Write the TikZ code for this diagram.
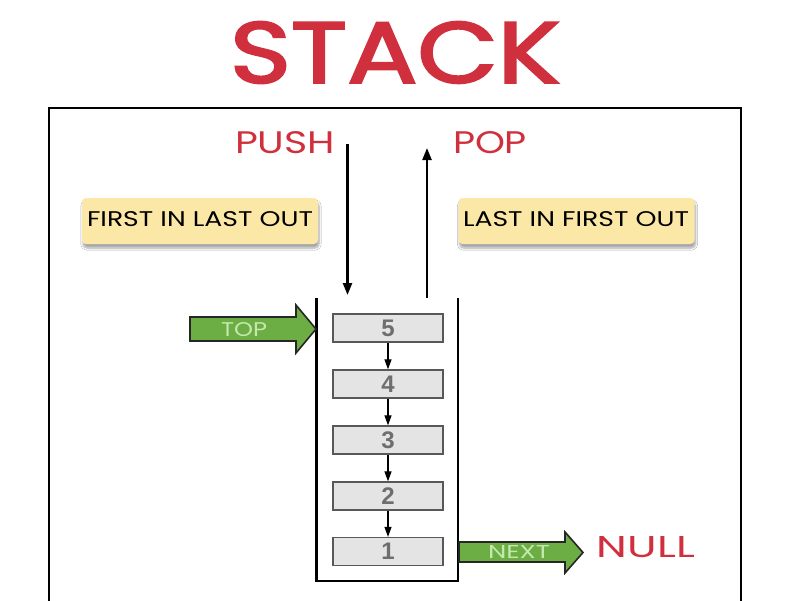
\documentclass[tikz,border=0pt]{standalone}
\usepackage{fontspec}
\usepackage{graphicx}
\setmainfont{Poppins}
\newfontfamily\titlefont{Poppins}[FakeBold=2.5]
\newfontfamily\numfont{Liberation Sans}
\usetikzlibrary{arrows.meta,shadows.blur}
\definecolor{stred}{HTML}{D0303D}
\definecolor{styel}{HTML}{FCE8A6}
\definecolor{stgreen}{HTML}{6CAD44}
\definecolor{stlgreen}{HTML}{C4E9AE}
\definecolor{stbox}{HTML}{E4E4E4}
\definecolor{stnum}{HTML}{6E6E6E}
\tikzset{
  lbl/.style={inner sep=0pt, anchor=center},
  note/.style={draw=none, fill=styel, rounded corners=4pt, minimum width=236pt, minimum height=46pt,
    blur shadow={shadow xshift=1pt, shadow yshift=-4pt, shadow blur steps=6, shadow opacity=35}},
  cell/.style={draw=stnum!80!black, line width=1.3pt, fill=stbox, minimum width=110pt, minimum height=28pt,
    inner sep=0pt, font=\numfont\bfseries\fontsize{24}{24}\selectfont, text=stnum},
  link/.style={-{Triangle[width=9pt,length=12pt]}, line width=2.3pt},
  smalllink/.style={-{Triangle[width=7pt,length=10pt]}, line width=1.2pt},
  blockarrow/.style={fill=stgreen, draw=black!85, line width=1.6pt, line join=miter},
  wall/.style={line width=2.6pt, line cap=butt}
}
\begin{document}
\begin{tikzpicture}[x=1pt,y=-1pt]
\useasboundingbox (0,0) rectangle (800,600);
\clip (0,0) rectangle (800,600);
\fill[white] (0,0) rectangle (800,600);
% title
\node[lbl, text=stred] (title) at (395,52.5) {\resizebox{330pt}{61pt}{\titlefont STACK}};
% frame
\draw[line width=2.6pt] (49,640) -- (49,108) -- (741,108) -- (741,640);
% labels
\node[lbl, text=stred] (push) at (285,143) {\resizebox{100pt}{22pt}{PUSH}};
\node[lbl, text=stred] (pop) at (490,143) {\resizebox{74pt}{22pt}{POP}};
\node[note] (filo) at (200,221) {};
\node[lbl] at (200,219.5) {\resizebox{226pt}{15pt}{FIRST IN LAST OUT}};
\node[note] (lifo) at (576.5,221) {};
\node[lbl] at (576,219.5) {\resizebox{226pt}{15pt}{LAST IN FIRST OUT}};
% push / pop arrows
\coordinate (pushs) at (347.5,144);
\coordinate (pushe) at (347.5,295);
\coordinate (pops) at (427,298);
\coordinate (pope) at (427,148);
\draw[link] (pushs) -- (pushe);
\draw[link] (pops) -- (pope);
% stack container
\coordinate (wl) at (316.5,298);
\coordinate (wr) at (458,298);
\draw[wall] (wl) -- (316.5,581) -- (458,581) -- (wr);
% cells
\node[cell] (b5) at (388,328) {5};
\node[cell] (b4) at (388,384) {4};
\node[cell] (b3) at (388,440) {3};
\node[cell] (b2) at (388,496) {2};
\node[cell] (b1) at (388,551.5) {1};
\foreach \a/\b in {b5/b4,b4/b3,b3/b2,b2/b1}
  \draw[smalllink] (\a.south) -- (\b.north);
% TOP arrow
\draw[blockarrow] (190,317) -- (296,317) -- (296,305) -- (316,329) -- (296,353) -- (296,341) -- (190,341) -- cycle;
\node[lbl, text=stlgreen] (top) at (244,329.5) {\resizebox{46pt}{14pt}{TOP}};
% NEXT arrow
\draw[blockarrow] (459,542) -- (565,542) -- (565,532) -- (583,552.5) -- (565,573) -- (565,562) -- (459,562) -- cycle;
\node[lbl, text=stlgreen] (next) at (519,552) {\resizebox{62pt}{13pt}{NEXT}};
\node[lbl, text=stred] (null) at (646,547.5) {\resizebox{98pt}{21pt}{NULL}};
\end{tikzpicture}
\end{document}
